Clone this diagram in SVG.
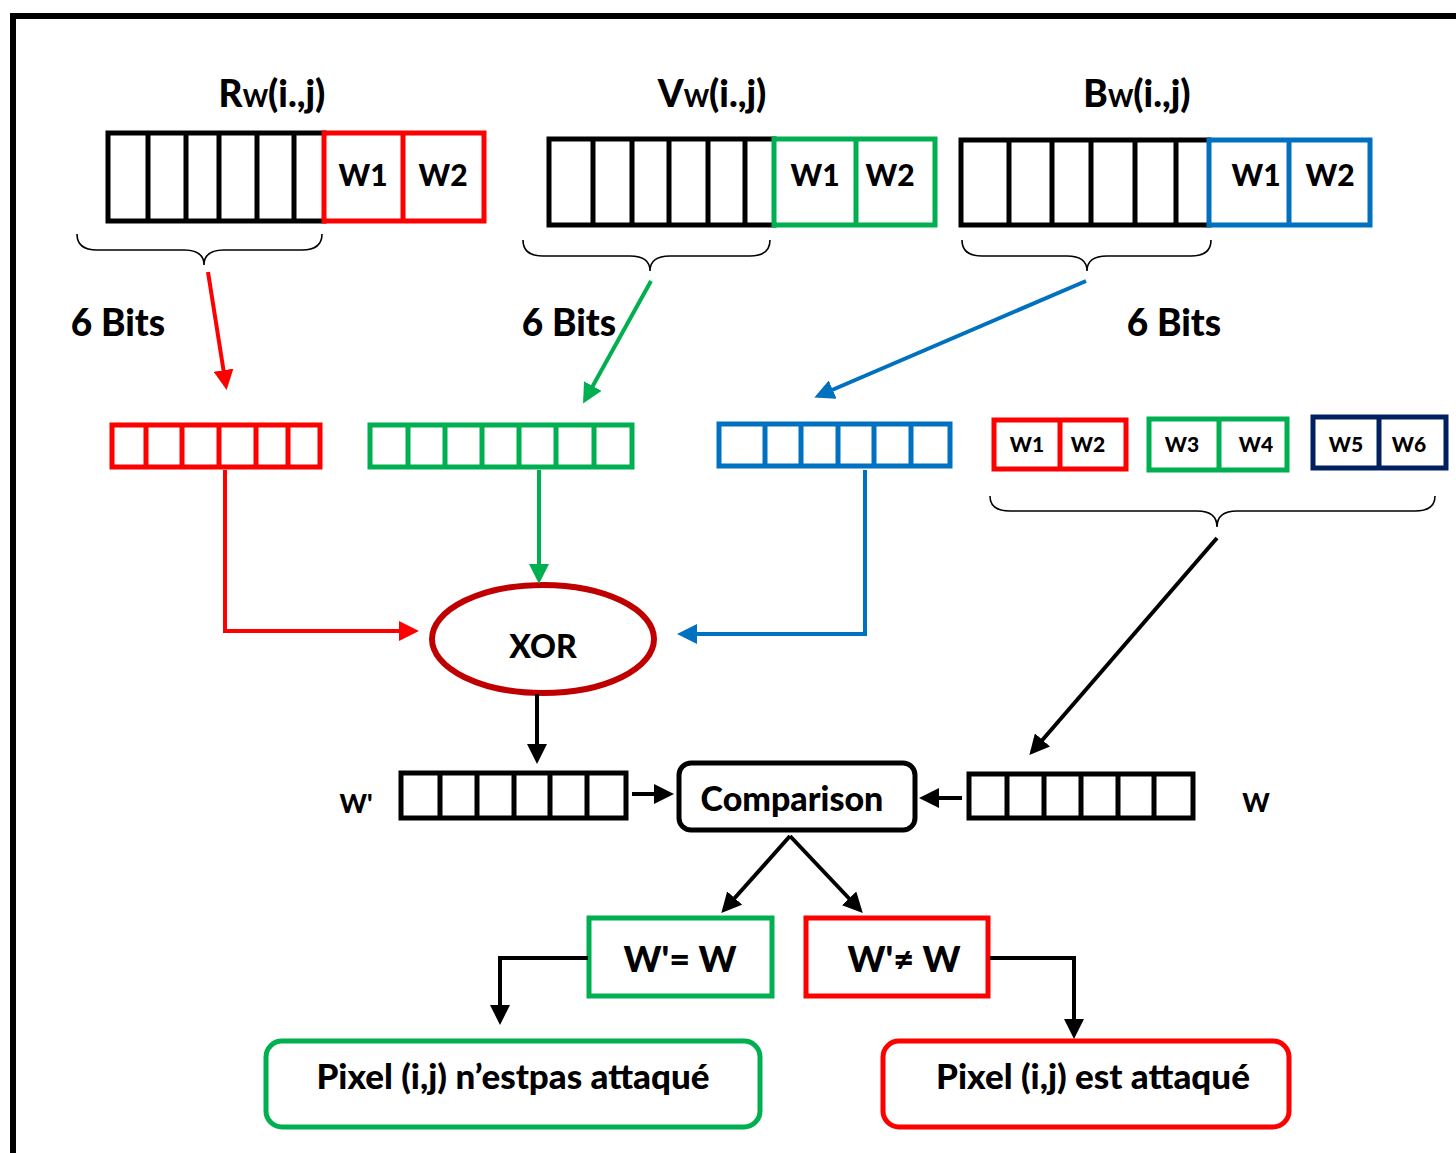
<svg xmlns="http://www.w3.org/2000/svg" width="1456" height="1153" viewBox="0 0 1456 1153">
  <defs>
    <marker id="ah-red" markerWidth="5" markerHeight="5" refX="4" refY="2.5" orient="auto" markerUnits="strokeWidth" viewBox="0 0 5 5">
      <path d="M0,0 L5,2.5 L0,5 Z" fill="#ff0000"/>
    </marker>
    <marker id="ah-green" markerWidth="5" markerHeight="5" refX="4" refY="2.5" orient="auto" markerUnits="strokeWidth" viewBox="0 0 5 5">
      <path d="M0,0 L5,2.5 L0,5 Z" fill="#00b050"/>
    </marker>
    <marker id="ah-blue" markerWidth="5" markerHeight="5" refX="4" refY="2.5" orient="auto" markerUnits="strokeWidth" viewBox="0 0 5 5">
      <path d="M0,0 L5,2.5 L0,5 Z" fill="#0070c0"/>
    </marker>
    <marker id="ah-black" markerWidth="5" markerHeight="5" refX="4" refY="2.5" orient="auto" markerUnits="strokeWidth" viewBox="0 0 5 5">
      <path d="M0,0 L5,2.5 L0,5 Z" fill="#000"/>
    </marker>
  </defs>
  <style>
    text { font-family: "Lato", "Liberation Sans", sans-serif; font-weight: 900; fill: #000; }
    .reg { fill: none; stroke-width: 5; stroke-linecap: square; }
    .k { stroke: #000; }
    .r { stroke: #ff0000; }
    .g { stroke: #00b050; }
    .b { stroke: #0070c0; }
    .n { stroke: #002060; }
    .brace { fill: none; stroke: #000; stroke-width: 1.6; }
    .wire { fill: none; stroke-width: 4; }
    .title { font-size: 37px; }
    .sub { font-size: 24px; }
    .cell { font-size: 30px; }
    .small { font-size: 21px; }
    .bits { font-size: 37px; }
    .outcome { font-size: 35px; }
  </style>

  <!-- outer frame -->
  <path d="M13,1153 V16 H1456" fill="none" stroke="#000" stroke-width="6"/>

  <!-- red channel word -->
  <g id="reg-R">
    <text x="272" y="107" text-anchor="middle" class="title">R<tspan class="sub">W</tspan>(i.,j)</text>
    <path class="reg k" d="M108,133 H324 M108,221 H324 M108,133 V221 M148,133 V221 M186,133 V221 M219,133 V221 M257,133 V221 M294,133 V221"/>
    <path class="reg r" d="M324,133 H484 M324,221 H484 M324,133 V221 M403,133 V221 M484,133 V221"/>
    <text x="363" y="186" text-anchor="middle" class="cell">W1</text>
    <text x="443" y="186" text-anchor="middle" class="cell">W2</text>
    <path class="brace" d="M77,234 Q77,250 97,250 L184,250 Q204,250 204,265 Q204,250 224,250 L302,250 Q322,250 322,234"/>
  </g>

  <!-- green channel word -->
  <g id="reg-V">
    <text x="712" y="107" text-anchor="middle" class="title">V<tspan class="sub">W</tspan>(i.,j)</text>
    <path class="reg k" d="M549,139 H774 M549,225 H774 M549,139 V225 M593,139 V225 M632,139 V225 M669,139 V225 M708,139 V225 M745,139 V225"/>
    <path class="reg g" d="M774,139 H935 M774,225 H935 M774,139 V225 M856,139 V225 M935,139 V225"/>
    <text x="815" y="186" text-anchor="middle" class="cell">W1</text>
    <text x="890" y="186" text-anchor="middle" class="cell">W2</text>
    <path class="brace" d="M523,240 Q523,256 543,256 L630,256 Q650,256 650,271 Q650,256 670,256 L750,256 Q770,256 770,240"/>
  </g>

  <!-- blue channel word -->
  <g id="reg-B">
    <text x="1137" y="107" text-anchor="middle" class="title">B<tspan class="sub">W</tspan>(i.,j)</text>
    <path class="reg k" d="M961,140 H1209 M961,225 H1209 M961,140 V225 M1009,140 V225 M1052,140 V225 M1091,140 V225 M1135,140 V225 M1176,140 V225"/>
    <path class="reg b" d="M1209,140 H1370 M1209,225 H1370 M1209,140 V225 M1289,140 V225 M1370,140 V225"/>
    <text x="1256" y="186" text-anchor="middle" class="cell">W1</text>
    <text x="1330" y="186" text-anchor="middle" class="cell">W2</text>
    <path class="brace" d="M962,240 Q962,256 982,256 L1067,256 Q1087,256 1087,271 Q1087,256 1107,256 L1191,256 Q1211,256 1211,240"/>
  </g>

  <!-- bit-count labels -->
  <g id="labels-bits">
    <text x="118" y="336" text-anchor="middle" class="bits">6 Bits</text>
    <text x="569" y="336" text-anchor="middle" class="bits">6 Bits</text>
    <text x="1174" y="336" text-anchor="middle" class="bits">6 Bits</text>
  </g>

  <!-- extracted 6-bit registers -->
  <g id="bits-R">
    <path class="reg r" d="M112,425 H320 M112,467 H320 M112,425 V467 M146,425 V467 M182,425 V467 M219,425 V467 M256,425 V467 M288,425 V467 M320,425 V467"/>
  </g>
  <g id="bits-V">
    <path class="reg g" d="M370,425 H632 M370,467 H632 M370,425 V467 M408,425 V467 M445,425 V467 M482,425 V467 M519,425 V467 M556,425 V467 M594,425 V467 M632,425 V467"/>
  </g>
  <g id="bits-B">
    <path class="reg b" d="M719,424 H950 M719,466 H950 M719,424 V466 M765,424 V466 M801,424 V466 M838,424 V466 M874,424 V466 M911,424 V466 M950,424 V466"/>
  </g>

  <!-- watermark pairs -->
  <g id="wm-12">
    <path class="reg r" d="M994,420 H1126 M994,469 H1126 M994,420 V469 M1060,420 V469 M1126,420 V469"/>
    <text x="1027" y="452" text-anchor="middle" class="small">W1</text>
    <text x="1088" y="452" text-anchor="middle" class="small">W2</text>
  </g>
  <g id="wm-34">
    <path class="reg g" d="M1149,419 H1287 M1149,470 H1287 M1149,419 V470 M1219,419 V470 M1287,419 V470"/>
    <text x="1182" y="452" text-anchor="middle" class="small">W3</text>
    <text x="1256" y="452" text-anchor="middle" class="small">W4</text>
  </g>
  <g id="wm-56">
    <path class="reg n" d="M1313,417 H1446 M1313,468 H1446 M1313,417 V468 M1379,417 V468 M1446,417 V468"/>
    <text x="1346" y="452" text-anchor="middle" class="small">W5</text>
    <text x="1409" y="452" text-anchor="middle" class="small">W6</text>
    <path class="brace" d="M990,496 Q990,511 1010,511 L1197,511 Q1217,511 1217,527 Q1217,511 1237,511 L1415,511 Q1435,511 1435,496"/>
  </g>

  <!-- XOR operator -->
  <g id="xor">
    <ellipse cx="543" cy="639" rx="111" ry="54" fill="none" stroke="#c00000" stroke-width="6"/>
    <text x="543" y="658" text-anchor="middle" font-size="32">XOR</text>
  </g>

  <!-- recomputed watermark W' -->
  <g id="reg-Wp">
    <text x="356" y="813" text-anchor="middle" font-size="26">W'</text>
    <path class="reg k" d="M401,773 H626 M401,818 H626 M401,773 V818 M440,773 V818 M477,773 V818 M514,773 V818 M550,773 V818 M587,773 V818 M626,773 V818"/>
  </g>

  <!-- extracted watermark W -->
  <g id="reg-W">
    <path class="reg k" d="M969,774 H1193 M969,818 H1193 M969,774 V818 M1007,774 V818 M1044,774 V818 M1081,774 V818 M1118,774 V818 M1154,774 V818 M1193,774 V818"/>
    <text x="1256" y="812" text-anchor="middle" font-size="26">W</text>
  </g>

  <!-- comparison -->
  <g id="comparison">
    <rect x="679" y="763" width="236" height="67" rx="12" fill="none" stroke="#000" stroke-width="5"/>
    <text x="792" y="811" text-anchor="middle" font-size="34">Comparison</text>
  </g>

  <!-- outcomes -->
  <g id="eq">
    <path class="reg g" d="M589,918 H772 M589,996 H772 M589,918 V996 M772,918 V996"/>
    <text x="680" y="972" text-anchor="middle" font-size="36">W'= W</text>
  </g>
  <g id="neq">
    <path class="reg r" d="M806,918 H988 M806,996 H988 M806,918 V996 M988,918 V996"/>
    <text x="904" y="972" text-anchor="middle" font-size="36">W'≠ W</text>
  </g>
  <g id="not-attacked">
    <rect x="266" y="1041" width="494" height="86" rx="16" fill="none" stroke="#00b050" stroke-width="5"/>
    <text x="513" y="1089" text-anchor="middle" class="outcome">Pixel (i,j) n’estpas attaqué</text>
  </g>
  <g id="attacked">
    <rect x="883" y="1041" width="406" height="86" rx="16" fill="none" stroke="#ff0000" stroke-width="5"/>
    <text x="1093" y="1089" text-anchor="middle" class="outcome">Pixel (i,j) est attaqué</text>
  </g>

  <!-- connectors -->
  <g id="connectors">
    <path class="wire" stroke="#ff0000" d="M208,272 L226,386" marker-end="url(#ah-red)"/>
    <path class="wire" stroke="#00b050" d="M651,281 L585,400" marker-end="url(#ah-green)"/>
    <path class="wire" stroke="#0070c0" d="M1086,281 L818,396" marker-end="url(#ah-blue)"/>

    <path class="wire" stroke="#ff0000" d="M225,470 V631 H415" marker-end="url(#ah-red)"/>
    <path class="wire" stroke="#00b050" d="M539,470 V580" marker-end="url(#ah-green)"/>
    <path class="wire" stroke="#0070c0" d="M865,470 V634 H681" marker-end="url(#ah-blue)"/>

    <path class="wire" stroke="#000" d="M1217,538 L1032,752" marker-end="url(#ah-black)"/>
    <path class="wire" stroke="#000" d="M537,694 V760" marker-end="url(#ah-black)"/>
    <path class="wire" stroke="#000" stroke-width="5" d="M632,794 H670" marker-end="url(#ah-black)"/>
    <path class="wire" stroke="#000" stroke-width="5" d="M962,798 H923" marker-end="url(#ah-black)"/>

    <path class="wire" stroke="#000" d="M790,836 L724,910" marker-end="url(#ah-black)"/>
    <path class="wire" stroke="#000" d="M790,836 L860,910" marker-end="url(#ah-black)"/>

    <path class="wire" stroke="#000" d="M588,958 H500 V1021" marker-end="url(#ah-black)"/>
    <path class="wire" stroke="#000" d="M990,958 H1074 V1035" marker-end="url(#ah-black)"/>
  </g>
</svg>
